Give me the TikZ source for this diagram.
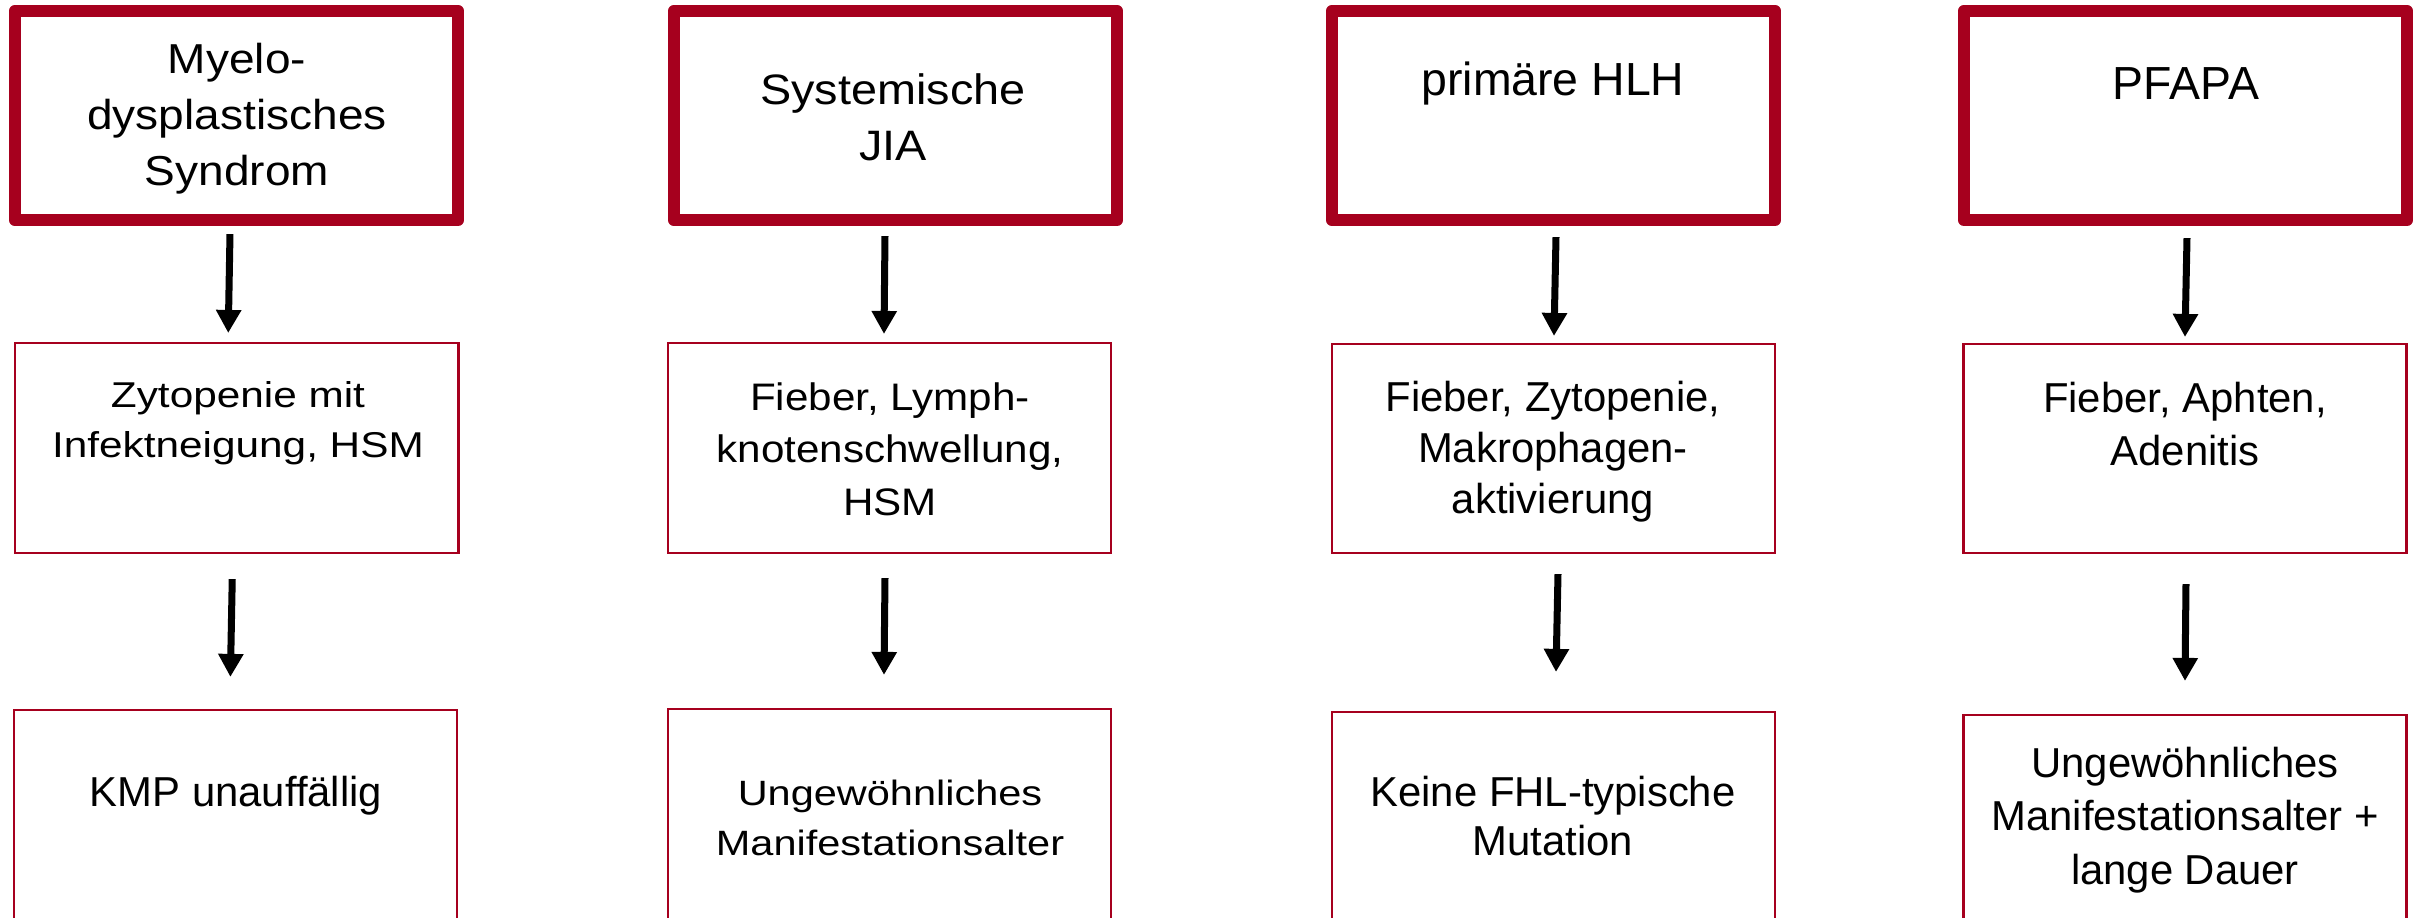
\documentclass[tikz,border=0pt]{standalone}
\usepackage{fontspec}
\setmainfont{Liberation Sans}
\newfontfamily\fwide[FakeStretch=1.18]{Liberation Sans}
\newfontfamily\fsemi[FakeStretch=1.1]{Liberation Sans}
\usetikzlibrary{arrows.meta}
\definecolor{rd}{RGB}{166,0,30}
\tikzset{
  headbox/.style={draw=rd, line width=0.12cm, line join=round, minimum width=4.43cm, minimum height=2.09cm, inner sep=0pt, outer sep=0pt},
  thinbox/.style={draw=rd, line width=0.025cm, minimum width=4.43cm, inner sep=0pt, outer sep=0pt},
  txt/.style={align=center, inner sep=0pt, outer sep=0pt, anchor=base, text=black},
  arr/.style={line width=0.07cm, -{Triangle[width=0.24cm, length=0.23cm]}, black},
}
\begin{document}
\begin{tikzpicture}[x=0.01cm, y=-0.01cm]
\clip (0,0) rectangle (2423,917);
\fill[white] (0,0) rectangle (2423,917);
% top boxes
\node[headbox] (t1) at (236.5,115.5) {};
\node[headbox] (t2) at (895.5,115.5) {};
\node[headbox] (t3) at (1553.5,115.5) {};
\node[headbox] (t4) at (2185.5,115.5) {};
% middle boxes
\node[thinbox, minimum height=2.10cm] (m1) at (236.75,448) {};
\node[thinbox, minimum height=2.10cm] (m2) at (889.5,448) {};
\node[thinbox, minimum height=2.09cm] (m3) at (1553.5,448.5) {};
\node[thinbox, minimum height=2.09cm] (m4) at (2185,448.5) {};
% bottom boxes (run past the lower edge)
\node[thinbox, minimum height=2.90cm] (b1) at (235.4,855) {};
\node[thinbox, minimum height=2.90cm] (b2) at (889.5,854) {};
\node[thinbox, minimum height=2.90cm] (b3) at (1553.5,857) {};
\node[thinbox, minimum height=2.90cm] (b4) at (2185,860) {};
% texts (anchor = baseline of the last line)
\node[txt, font=\fsemi\fontsize{11.9}{15.9}\selectfont] (t1t) at (237,185) {Myelo-\\dysplastisches\\Syndrom};
\node[txt, font=\fsemi\fontsize{12.1}{15.7}\selectfont] (t2t) at (893,160) {Systemische\\JIA};
\node[txt, font=\fontsize{13.2}{15.8}\selectfont] (t3t) at (1553,95) {primäre HLH};
\node[txt, font=\fontsize{13.2}{15.8}\selectfont] (t4t) at (2186,99) {PFAPA};
\node[txt, font=\fwide\fontsize{10.2}{14.2}\selectfont] (m1t) at (238,457) {Zytopenie mit\\Infektneigung, HSM};
\node[txt, font=\fsemi\fontsize{10.9}{14.8}\selectfont] (m2t) at (890,515) {Fieber, Lymph-\\knotenschwellung,\\HSM};
\node[txt, font=\fontsize{11.9}{14.5}\selectfont] (m3t) at (1553,513) {Fieber, Zytopenie,\\Makrophagen-\\aktivierung};
\node[txt, font=\fontsize{11.9}{15}\selectfont] (m4t) at (2185,465) {Fieber, Aphten,\\Adenitis};
\node[txt, font=\fontsize{11.9}{14.5}\selectfont] (b1t) at (236,806) {KMP unauffällig};
\node[txt, font=\fwide\fontsize{10.0}{14.2}\selectfont] (b2t) at (890,855) {Ungewöhnliches\\Manifestationsalter};
\node[txt, font=\fontsize{11.9}{13.9}\selectfont] (b3t) at (1553,855) {Keine FHL-typische\\Mutation};
\node[txt, font=\fontsize{11.9}{15.1}\selectfont] (b4t) at (2185,884) {Ungewöhnliches\\Manifestationsalter +\\lange Dauer};
% arrows
\draw[arr] ([xshift=-0.065cm, yshift=-0.14cm]t1.south) -- ([xshift=-0.085cm, yshift=0.10cm]m1.north);
\draw[arr] ([xshift=-0.045cm, yshift=-0.26cm]m1.south) -- ([xshift=-0.05cm, yshift=0.33cm]b1.north);
\draw[arr] ([xshift=-0.105cm, yshift=-0.16cm]t2.south) -- ([xshift=-0.055cm, yshift=0.09cm]m2.north);
\draw[arr] ([xshift=-0.045cm, yshift=-0.25cm]m2.south) -- ([xshift=-0.055cm, yshift=0.34cm]b2.north);
\draw[arr] ([xshift=0.025cm, yshift=-0.17cm]t3.south) -- ([xshift=0.005cm, yshift=0.08cm]m3.north);
\draw[arr] ([xshift=0.045cm, yshift=-0.21cm]m3.south) -- ([xshift=0.025cm, yshift=0.40cm]b3.north);
\draw[arr] ([xshift=0.015cm, yshift=-0.18cm]t4.south) -- ([xshift=0.00cm, yshift=0.07cm]m4.north);
\draw[arr] ([xshift=0.01cm, yshift=-0.31cm]m4.south) -- ([xshift=0.00cm, yshift=0.34cm]b4.north);
\end{tikzpicture}
\end{document}
